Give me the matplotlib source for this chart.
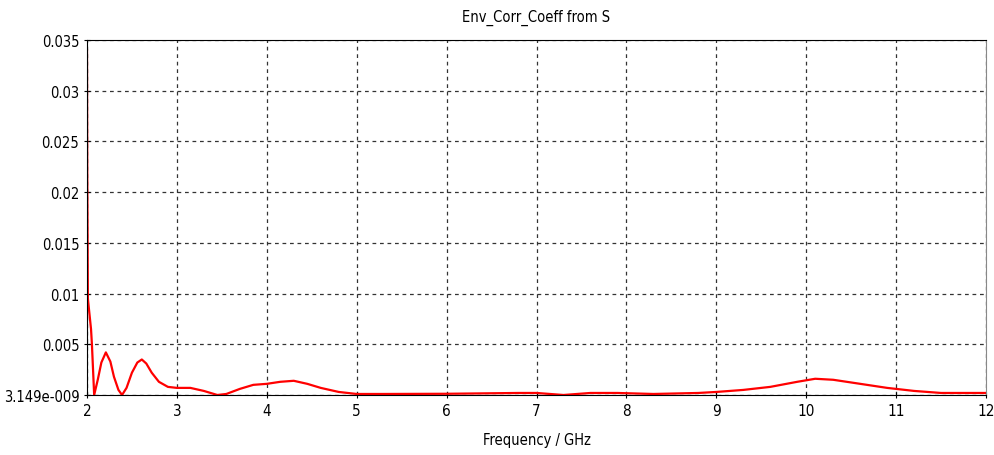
import numpy as np
import matplotlib.pyplot as plt

plt.rcParams['font.family'] = ['DejaVu Sans']
plt.rcParams['font.stretch'] = 'condensed'

# Env_Corr_Coeff
freq = [2.0, 2.003, 2.01, 2.045, 2.055, 2.08, 2.12, 2.16, 2.21, 2.26, 2.3,
        2.35, 2.39, 2.44, 2.5, 2.56, 2.61, 2.66, 2.72, 2.8, 2.9, 3.0, 3.15,
        3.3, 3.45, 3.55, 3.7, 3.85, 4.0, 4.15, 4.3, 4.45, 4.6, 4.8, 5.0, 5.3,
        6.0, 6.8, 7.0, 7.3, 7.6, 7.9, 8.3, 8.8, 9.0, 9.3, 9.6, 9.9, 10.1,
        10.3, 10.6, 10.9, 11.2, 11.5, 12.0]
ecc = [0.034, 0.022, 0.0095, 0.0065, 0.005, 0.0, 0.0015, 0.0032, 0.0042,
       0.0033, 0.0018, 0.0005, 0.0, 0.0007, 0.0022, 0.0032, 0.0035, 0.0031,
       0.0022, 0.0013, 0.0008, 0.0007, 0.0007, 0.0004, 0.0, 0.0001, 0.0006,
       0.001, 0.0011, 0.0013, 0.0014, 0.0011, 0.0007, 0.0003, 0.0001, 0.0001,
       0.00012, 0.0002, 0.0002, 0.0, 0.0002, 0.0002, 0.0001, 0.0002, 0.0003,
       0.0005, 0.0008, 0.0013, 0.0016, 0.0015, 0.0011, 0.0007, 0.0004,
       0.0002, 0.0002]

yticks = [0, 0.005, 0.01, 0.015, 0.02, 0.025, 0.03, 0.035]
ylabels = ['3.149e-009', '0.005', '0.01', '0.015', '0.02', '0.025', '0.03', '0.035']
xticks = list(range(2, 13))

fig = plt.figure(figsize=(9.94, 4.56), dpi=100)
ax = fig.add_axes([0.0875, 0.1316, 0.9045, 0.7784])

ax.plot(freq, ecc, color='#ff0000', lw=1.6)

ax.set_xlim(2, 12)
ax.set_ylim(0, 0.035)
ax.set_xticks(xticks)
ax.set_yticks(yticks)
ax.set_yticklabels(ylabels)
ax.tick_params(labelsize=11, length=5, pad=3, direction='inout', colors='black')
ax.tick_params(axis='y', labelsize=10.5)
ax.grid(True, color='#333333', linestyle=(0, (3, 3)), linewidth=0.9)
ax.spines['right'].set_color('#888888')

ax.set_title('Env_Corr_Coeff from S', fontsize=10.5, pad=14)
ax.set_xlabel('Frequency / GHz', fontsize=10.5, labelpad=10)

plt.savefig('out.png', dpi=100)
